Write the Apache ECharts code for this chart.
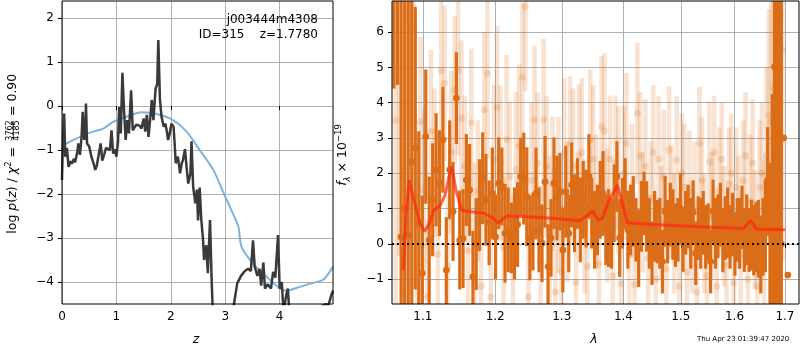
<!DOCTYPE html>
<html><head><meta charset="utf-8">
<script src="https://cdn.jsdelivr.net/npm/echarts@6/dist/echarts.min.js"></script>
<style>html,body{margin:0;padding:0;background:#fff}#c{width:800px;height:350px}</style>
</head><body><div id="c"></div>
<script>
// ---------- Left panel: log p(z) ----------
const pzZ = [0.00,0.02,0.04,0.06,0.09,0.12,0.16,0.18,0.22,0.24,0.28,0.30,0.33,0.36,0.38,0.41,0.43,0.44,0.46,0.50,0.54,0.58,0.61,0.64,0.67,0.71,0.74,0.78,0.81,0.84,0.88,0.91,0.94,0.97,1.00,1.03,1.05,1.08,1.11,1.14,1.17,1.20,1.23,1.27,1.30,1.34,1.37,1.40,1.43,1.46,1.50,1.53,1.56,1.59,1.62,1.65,1.68,1.72,1.75,1.77,1.80,1.83,1.87,1.90,1.93,1.95,1.98,2.01,2.05,2.07,2.09,2.13,2.17,2.20,2.22,2.26,2.29,2.32,2.36,2.38,2.41,2.45,2.48,2.50,2.53,2.56,2.59,2.61,2.65,2.68,2.72,2.75,2.78,2.90,3.10,3.16,3.22,3.29,3.36,3.42,3.47,3.51,3.54,3.59,3.63,3.66,3.70,3.73,3.78,3.84,3.88,3.92,3.97,4.00,4.04,4.07,4.12,4.15,4.18,4.30,4.70,4.77,4.85,4.89,4.95,4.98];
const pzLog = [-1.68,-0.62,-0.17,-1.15,-0.95,-1.38,-1.25,-1.31,-1.20,-1.28,-1.05,-0.85,-1.11,-0.70,-0.13,-0.77,-0.50,0.06,-0.85,-0.92,-1.15,-1.30,-1.45,-1.35,-1.38,-0.85,-1.24,-1.08,-0.95,-0.92,-1.00,-0.55,-1.08,-0.98,-1.15,-0.80,-0.02,-0.62,0.76,-0.10,-0.77,-0.32,-0.62,0.36,-0.55,-0.47,-0.42,-0.40,-0.45,-0.51,-0.28,-0.58,-0.20,-0.70,-0.30,0.14,-0.32,0.40,0.50,1.50,0.14,-0.25,-0.47,-0.40,-0.60,-0.77,-0.62,-0.40,-0.47,-0.85,-1.30,-1.15,-1.53,-1.30,-1.24,-0.98,-1.40,-1.76,-1.53,-0.80,-1.83,-2.21,-1.90,-2.60,-1.85,-2.59,-3.00,-3.50,-3.16,-3.80,-2.59,-3.95,-5.00,-5.50,-5.20,-4.50,-4.03,-3.86,-3.75,-3.70,-3.75,-3.05,-3.64,-3.86,-3.70,-4.08,-3.56,-4.15,-4.05,-4.15,-3.77,-3.90,-2.93,-4.15,-4.00,-4.70,-4.30,-4.15,-4.70,-5.30,-5.00,-4.55,-4.50,-4.55,-4.30,-4.20];
const priorZ = [0.01,0.15,0.33,0.57,0.76,0.94,1.19,1.46,1.74,2.04,2.29,2.53,2.78,2.96,3.11,3.24,3.30,3.51,3.76,4.00,4.12,4.37,4.61,4.80,4.98];
const priorLog = [-0.90,-0.81,-0.70,-0.58,-0.51,-0.36,-0.24,-0.14,-0.18,-0.32,-0.58,-1.00,-1.45,-1.95,-2.36,-2.74,-3.20,-3.58,-3.88,-4.14,-4.20,-4.11,-4.02,-3.95,-3.65];
const leftXTicks = [0,1,2,3,4];
const leftYTicks = [-4,-3,-2,-1,0,1,2];

// ---------- Right panel: spectrum ----------
const darkWave = [1.0625,1.0671,1.0717,1.0763,1.0809,1.0855,1.0901,1.0947,1.0993,1.1039,1.1085,1.1131,1.1177,1.1223,1.1269,1.1315,1.1361,1.1407,1.1453,1.1499,1.1545,1.1591,1.1637,1.1683,1.1729,1.1775,1.1821,1.1867,1.1913,1.1959,1.2005,1.2051,1.2097,1.2143,1.2189,1.2235,1.2281,1.2327,1.2373,1.2419,1.2465,1.2511,1.2557,1.2603,1.2649,1.2695,1.2741,1.2787,1.2833,1.2879,1.2925,1.2971,1.3017,1.3063,1.3109,1.3155,1.3201,1.3247,1.3293,1.3339,1.3385,1.3431,1.3477,1.3523,1.3569,1.3615,1.3661,1.3707,1.3753,1.3799,1.3845,1.3891,1.3937,1.3983,1.4029,1.4075,1.4121,1.4167,1.4213,1.4259,1.4305,1.4351,1.4397,1.4443,1.4489,1.4535,1.4581,1.4627,1.4673,1.4719,1.4765,1.4811,1.4857,1.4903,1.4949,1.4995,1.5041,1.5087,1.5133,1.5179,1.5225,1.5271,1.5317,1.5363,1.5409,1.5455,1.5501,1.5547,1.5593,1.5639,1.5685,1.5731,1.5777,1.5823,1.5869,1.5915,1.5961,1.6007,1.6053,1.6099,1.6145,1.6191,1.6237,1.6283,1.6329,1.6375,1.6421,1.6467,1.6513,1.6559,1.6605,1.6651,1.6697,1.6743,1.6789,1.6835,1.6881,1.6927,1.6973,1.7060];
const darkFlux = [7.8,8.5,0.2,1.0,0.25,2.33,2.71,0.59,-0.83,3.04,0.11,1.25,2.1,1.72,2.95,-0.74,2.1,0.92,4.13,0.11,0.15,1.81,1.53,-0.93,0.0,1.1,1.86,1.25,0.6,1.43,0.2,1.72,1.63,0.30,0.40,0.17,0.30,0.55,1.91,1.85,1.34,0.17,0.35,1.43,0.40,0.02,1.76,-0.64,0.17,1.72,1.30,1.48,-0.17,1.48,0.30,1.67,0.87,1.43,0.68,1.25,1.0,1.91,0.87,0.40,0.68,1.25,1.43,0.40,0.45,0.30,1.15,1.91,0.17,0.87,1.43,0.40,0.68,0.92,0.40,-0.12,0.78,1.15,0.78,0.30,-0.26,0.50,0.35,0.30,-0.50,0.92,0.35,0.83,0.55,0.25,0.40,1.0,0.11,0.6,0.78,0.30,0.9,-0.26,0.45,0.30,0.6,0.2,0.35,-0.50,0.92,0.30,0.5,0.83,0.1,0.45,0.6,0.2,0.55,0.0,0.40,0.3,0.75,0.11,0.4,0.11,0.25,0.11,0.2,0.15,-0.3,0.2,0.5,1.81,0.3,1.25,5.02,-0.55,1.1,0.0,3.0,-0.88];
const darkErr = [3.4,4.0,10,9,8,6,4,2.6,2.2,1.9,1.8,1.6,1.6,1.5,1.5,1.5,1.4,1.4,1.3,1.4,1.4,1.3,1.3,1.3,1.3,1.3,1.3,1.3,1.2,1.3,1.2,1.3,1.1,1.4,1.2,1.0,1.3,1.2,1.1,1.3,1.4,1.2,1.1,1.3,1.2,1.1,1.3,1.2,1.1,1.3,1.2,1.1,1.2,1.3,1.1,1.2,1.1,1.0,1.2,1.1,1.1,1.2,1.0,1.1,1.0,1.1,1.2,1.0,1.1,1.0,1.1,1.0,1.1,1.0,1.0,1.1,1.0,1.0,0.9,1.1,1.0,0.9,1.0,1.0,0.9,1.0,0.9,1.0,0.9,1.0,0.9,0.9,1.0,0.9,0.9,1.0,0.9,0.9,0.9,1.0,0.9,0.9,0.9,1.0,0.9,0.9,0.8,0.9,0.9,1.0,0.9,0.9,0.9,0.9,1.0,0.9,0.9,0.9,0.9,1.0,0.9,0.9,1.0,0.9,1.0,1.0,1.0,1.1,1.1,1.1,1.3,1.5,2.0,3.0,8,10,10,10,0];

const lightWave = [1.0648,1.0694,1.0740,1.0786,1.0832,1.0878,1.0924,1.0970,1.1016,1.1062,1.1108,1.1154,1.1200,1.1246,1.1292,1.1338,1.1384,1.1430,1.1476,1.1522,1.1568,1.1614,1.1660,1.1706,1.1752,1.1798,1.1844,1.1890,1.1936,1.1982,1.2028,1.2074,1.2120,1.2166,1.2212,1.2258,1.2304,1.2350,1.2396,1.2442,1.2488,1.2534,1.2580,1.2626,1.2672,1.2718,1.2764,1.2810,1.2856,1.2902,1.2948,1.2994,1.3040,1.3086,1.3132,1.3178,1.3224,1.3270,1.3316,1.3362,1.3408,1.3454,1.3500,1.3546,1.3592,1.3638,1.3684,1.3730,1.3776,1.3822,1.3868,1.3914,1.3960,1.4006,1.4052,1.4098,1.4144,1.4190,1.4236,1.4282,1.4328,1.4374,1.4420,1.4466,1.4512,1.4558,1.4604,1.4650,1.4696,1.4742,1.4788,1.4834,1.4880,1.4926,1.4972,1.5018,1.5064,1.5110,1.5156,1.5202,1.5248,1.5294,1.5340,1.5386,1.5432,1.5478,1.5524,1.5570,1.5616,1.5662,1.5708,1.5754,1.5800,1.5846,1.5892,1.5938,1.5984,1.6030,1.6076,1.6122,1.6168,1.6214,1.6260,1.6306,1.6352,1.6398,1.6444,1.6490,1.6536,1.6582,1.6628,1.6674,1.6720,1.6766,1.6812,1.6858,1.6904,1.6950];
const lightFlux = [3.5,4.65,-1.3,6.46,6.3,6.15,-1.2,3.46,1.53,-1.5,3.2,2.3,-0.3,4.91,4.55,-0.64,2.6,4.36,4.91,3.56,2.2,-0.2,3.43,0.1,1.5,-1.2,3.8,4.83,-1.5,2.4,3.87,2.29,-0.1,2.96,1.9,-0.6,2.1,2.78,4.72,6.72,-1.5,1.8,3.51,2.29,-0.55,3.52,2.2,0.4,1.7,-1.36,1.4,-0.8,2.6,0.9,2.85,2.2,-1.1,2.52,2.6,0.5,-0.64,2.95,2.4,1.2,-0.57,3.32,3.2,0.8,2.4,-0.9,2.3,1.8,-1.13,2.0,2.85,-0.3,1.5,-1.15,3.70,2.5,0.9,2.2,-0.4,1.3,2.6,-1.0,2.4,0.6,1.9,-0.7,2.66,1.2,0.3,2.38,-1.2,2.0,1.61,-0.8,1.5,0.2,1.1,-1.36,2.85,1.8,0.3,-0.9,2.33,0.8,2.6,-1.2,1.5,2.4,0.5,-0.6,1.7,2.0,-1.1,1.6,0.9,-0.3,1.8,2.5,-1.0,1.2,2.3,0.4,-1.2,1.6,2.0,0.3,2.5,3.65,3.46,4.41,4.5,5.0,6.5,5.5];
const lightErr = [6,5,4,3,3,3,2.6,2.4,2.3,2.2,2.3,2.1,2.2,2.4,2.2,2.0,2.3,2.1,2.4,2.2,2.0,2.3,2.1,2.2,2.0,2.3,2.2,2.4,2.0,2.1,2.3,2.2,2.0,2.4,2.1,2.0,2.2,2.3,2.1,2.4,2.0,2.2,2.1,2.0,2.2,2.3,2.0,2.1,1.9,2.0,2.2,1.9,2.1,2.0,1.9,2.2,1.8,2.0,2.1,1.9,1.8,2.0,2.1,1.9,1.8,2.0,2.2,1.9,1.8,2.0,1.9,2.1,1.8,1.9,2.0,1.8,1.9,1.7,2.0,1.8,1.7,1.9,1.8,1.6,1.9,1.7,1.8,1.6,1.9,1.7,1.8,1.6,1.7,1.8,1.6,1.7,1.8,1.6,1.7,1.6,1.8,1.7,1.6,1.8,1.7,1.6,1.7,1.8,1.6,1.7,1.8,1.6,1.7,1.8,1.6,1.7,1.8,1.7,1.6,1.8,1.7,1.8,1.6,1.9,1.8,1.7,2.0,1.9,2.0,2.1,2.5,3,3.5,4,5,6,6,6];

const modelWave = [1.0744,1.0780,1.0821,1.0900,1.0960,1.1026,1.1090,1.1146,1.1235,1.1300,1.1350,1.1390,1.1450,1.1525,1.1640,1.1836,1.1940,1.2043,1.2164,1.2500,1.2900,1.3290,1.3400,1.3490,1.3580,1.3650,1.3750,1.3900,1.4068,1.4500,1.5350,1.6170,1.6310,1.6430,1.7000];
const modelFlux = [-0.74,0.8,1.81,1.1,0.6,0.35,0.6,0.96,1.10,1.4,1.9,2.19,1.5,0.96,0.92,0.87,0.77,0.60,0.79,0.77,0.72,0.66,0.80,0.94,0.68,0.72,1.2,1.67,0.60,0.55,0.49,0.44,0.66,0.42,0.40];
const rightXTicks = [1.1,1.2,1.3,1.4,1.5,1.6,1.7];
const rightYTicks = [-1,0,1,2,3,4,5,6];

// ---------- chart ----------
const F = 'DejaVu Sans';
const RY = [-1.70, 6.88];
const RX = [1.06, 1.729];
const LX = [0, 4.98];
const LY = [-4.5, 2.39];
const minus = v => String(v).replace('-', '\u2212');
const DARK = '#db6d18';
const LIGHT = 'rgba(219,109,24,0.2)';

function errRender(color, width, r) {
  return function (params, api) {
    const x = api.value(0), y = api.value(1), e = api.value(2);
    const lo = Math.max(y - e, RY[0]), hi = Math.min(y + e, RY[1]);
    const kids = [];
    if (e > 0 && hi > lo) {
      const p1 = api.coord([x, lo]), p2 = api.coord([x, hi]);
      kids.push({type: 'line', shape: {x1: p1[0], y1: p1[1], x2: p2[0], y2: p2[1]}, style: {stroke: color, lineWidth: width}});
    }
    if (y >= RY[0] && y <= RY[1]) {
      const c = api.coord([x, y]);
      kids.push({type: 'circle', shape: {cx: c[0], cy: c[1], r: r}, style: {fill: color}});
    }
    return {type: 'group', children: kids};
  };
}
const zip3 = (a, b, c) => a.map((v, i) => [v, b[i], c[i]]);
const zip2 = (a, b) => a.map((v, i) => [v, b[i]]);

const axisCommon = (ticks, fmt, margin) => ({
  axisLine: {show: false},
  axisTick: {show: true, customValues: ticks, length: 4, lineStyle: {color: '#000', width: 1}},
  axisLabel: {customValues: ticks, color: '#000', fontSize: 12, fontFamily: F, margin: margin, formatter: fmt},
  splitLine: {show: true, lineStyle: {color: '#b0b0b0', width: 1}}
});

const G1 = {left: 62, top: 1, width: 271, height: 303};
const G2 = {left: 392, top: 1, width: 407, height: 303};

const chart = echarts.init(document.getElementById('c'), null, {renderer: 'canvas'});
chart.setOption({
  animation: false,
  backgroundColor: '#fff',
  grid: [G1, G2],
  xAxis: [
    Object.assign({gridIndex: 0, type: 'value', min: LX[0], max: LX[1]}, axisCommon(leftXTicks, v => minus(v), 7)),
    Object.assign({gridIndex: 1, type: 'log', logBase: 10, min: RX[0], max: RX[1]}, axisCommon(rightXTicks, v => (+v).toFixed(1), 7))
  ],
  yAxis: [
    Object.assign({gridIndex: 0, type: 'value', min: LY[0], max: LY[1]}, axisCommon(leftYTicks, v => minus(v), 8)),
    Object.assign({gridIndex: 1, type: 'value', min: RY[0], max: RY[1]}, axisCommon(rightYTicks, v => minus(v), 8))
  ],
  series: [
    {type: 'line', xAxisIndex: 0, yAxisIndex: 0, data: zip2(priorZ, priorLog), showSymbol: false, smooth: 0.3,
      lineStyle: {color: '#7fb3dc', width: 2}, z: 2},
    {type: 'line', xAxisIndex: 0, yAxisIndex: 0, data: zip2(pzZ, pzLog), showSymbol: false,
      lineStyle: {color: '#3a3a3a', width: 2.5}, z: 3},
    {type: 'custom', xAxisIndex: 1, yAxisIndex: 1, data: zip3(lightWave, lightFlux, lightErr), encode: {x: 0, y: 1},
      renderItem: errRender(LIGHT, 4.5, 3.5), z: 2, clip: true},
    {type: 'custom', xAxisIndex: 1, yAxisIndex: 1, data: zip3(darkWave, darkFlux, darkErr), encode: {x: 0, y: 1},
      renderItem: errRender(DARK, 3.2, 3.4), z: 3, clip: true},
    {type: 'line', xAxisIndex: 1, yAxisIndex: 1, data: zip2(modelWave, modelFlux), showSymbol: false,
      lineStyle: {color: 'rgba(255,40,20,0.72)', width: 3}, z: 4},
    {type: 'line', xAxisIndex: 1, yAxisIndex: 1, data: [[RX[0], 0], [RX[1], 0]], showSymbol: false,
      lineStyle: {color: '#000', width: 2, type: [2, 3]}, z: 5}
  ],
  graphic: [
    {type: 'rect', shape: {x: G1.left, y: G1.top, width: G1.width, height: G1.height}, style: {fill: null, stroke: '#000', lineWidth: 1}, z: 100},
    {type: 'rect', shape: {x: G2.left, y: G2.top, width: G2.width, height: G2.height}, style: {fill: null, stroke: '#000', lineWidth: 1}, z: 100},
    {type: 'text', x: 318, y: 20, style: {text: 'j003444m4308', font: '12px "DejaVu Sans"', fill: '#000', textAlign: 'right', textVerticalAlign: 'middle'}, z: 100},
    {type: 'text', x: 318, y: 34.5, style: {text: 'ID=315    z=1.7780', font: '12px "DejaVu Sans"', fill: '#000', textAlign: 'right', textVerticalAlign: 'middle'}, z: 100},
    {type: 'text', x: 196, y: 340, style: {text: 'z', font: 'italic 12.5px "DejaVu Sans"', fill: '#000', textAlign: 'center', textVerticalAlign: 'middle'}, z: 100},
    {type: 'text', x: 594, y: 340, style: {text: 'λ', font: 'italic 12.5px "DejaVu Sans"', fill: '#000', textAlign: 'center', textVerticalAlign: 'middle'}, z: 100},
    {type: 'text', x: 697, y: 339, style: {text: 'Thu Apr 23 01:39:47 2020', font: '7px "DejaVu Sans"', fill: '#000', textAlign: 'left', textVerticalAlign: 'middle'}, z: 100},
    {type: 'group', x: 12.5, y: 153, rotation: Math.PI / 2, z: 100, children: [
      {type: 'text', x: 6, y: 0, style: {
        text: '{n|log }{i|p}{n|(}{i|z}{n|) / }{i|χ}{s|2}{n| =}',
        rich: {
          n: {fontSize: 12.5, fontFamily: F, fill: '#000', lineHeight: 16},
          i: {fontSize: 12.5, fontFamily: F, fontStyle: 'italic', fill: '#000', lineHeight: 16},
          s: {fontSize: 8.5, fontFamily: F, fill: '#000', lineHeight: 16, verticalAlign: 'top'}
        },
        textAlign: 'right', textVerticalAlign: 'middle'}},
      {type: 'text', x: 22.5, y: -2.8, style: {text: '3762', font: '8px "DejaVu Sans"', fill: '#000', textAlign: 'center', textVerticalAlign: 'middle'}},
      {type: 'line', shape: {x1: 13, y1: 0.8, x2: 32, y2: 0.8}, style: {stroke: '#000', lineWidth: 0.8}},
      {type: 'text', x: 22.5, y: 4.6, style: {text: '4185', font: '8px "DejaVu Sans"', fill: '#000', textAlign: 'center', textVerticalAlign: 'middle'}},
      {type: 'text', x: 37, y: 0, style: {text: '= 0.90', font: '12.5px "DejaVu Sans"', fill: '#000', textAlign: 'left', textVerticalAlign: 'middle'}}
    ]},
    {type: 'group', x: 343, y: 155, rotation: Math.PI / 2, z: 100, children: [
      {type: 'text', x: 0, y: 0, style: {
        text: '{i|f}{b|λ}{n| × 10}{s|−19}',
        rich: {
          n: {fontSize: 12.5, fontFamily: F, fill: '#000', lineHeight: 18},
          i: {fontSize: 12.5, fontFamily: F, fontStyle: 'italic', fill: '#000', lineHeight: 18},
          b: {fontSize: 8.5, fontFamily: F, fontStyle: 'italic', fill: '#000', lineHeight: 18, verticalAlign: 'bottom'},
          s: {fontSize: 8.5, fontFamily: F, fill: '#000', lineHeight: 18, verticalAlign: 'top'}
        },
        textAlign: 'center', textVerticalAlign: 'middle'}}
    ]}
  ]
});
</script>
</body></html>
